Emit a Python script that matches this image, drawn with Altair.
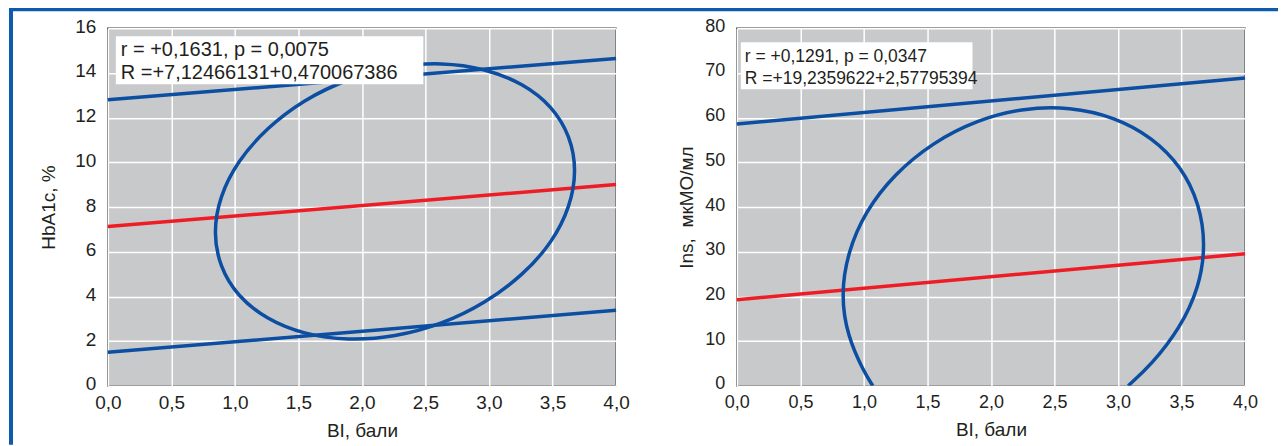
import altair as alt
import pandas as pd

# ---------------- data ----------------
X_TICKS = [0.0, 0.5, 1.0, 1.5, 2.0, 2.5, 3.0, 3.5, 4.0]
HBA_TICKS = [0, 2, 4, 6, 8, 10, 12, 14, 16]
INS_TICKS = [0, 10, 20, 30, 40, 50, 60, 70, 80]

BI_ENDS = [0.0, 4.0]
HBA_REGRESSION = [7.1247, 9.0049]
HBA_UPPER = [12.8, 14.65]
HBA_LOWER = [1.5, 3.38]
INS_REGRESSION = [19.236, 29.548]
INS_UPPER = [58.6, 68.9]

HBA_ELLIPSE_X = [3.69, 3.64, 3.50, 3.27, 2.97, 2.63, 2.26, 1.89, 1.54, 1.25, 1.02, 0.88,
                 0.83, 0.88, 1.02, 1.25, 1.54, 1.89, 2.26, 2.63, 2.97, 3.27, 3.50, 3.64]
HBA_ELLIPSE_Y = [9.64, 11.17, 12.50, 13.53, 14.20, 14.48, 14.32, 13.75, 12.80, 11.54, 10.05, 8.47,
                 6.86, 5.33, 4.00, 2.97, 2.30, 2.02, 2.18, 2.75, 3.70, 4.96, 6.43, 8.03]

INS_ELLIPSE_X = [3.08, 3.26, 3.49, 3.64, 3.69, 3.64, 3.50, 3.27, 2.97, 2.62,
                 2.26, 1.89, 1.54, 1.24, 1.01, 0.87, 0.82, 0.87, 1.00, 1.07]
INS_ELLIPSE_Y = [0.0, 4.6, 12.9, 22.1, 31.6, 40.8, 49.0, 55.6, 60.2, 62.4,
                 62.2, 59.5, 54.4, 47.4, 39.0, 29.7, 20.2, 11.1, 3.1, 0.0]

HBA_TEXT = ["r = +0,1631, p = 0,0075", "R =+7,12466131+0,470067386"]
INS_TEXT = ["r = +0,1291, p = 0,0347", "R =+19,2359622+2,57795394"]

X_TITLE = "BI, бали"
HBA_TITLE = "HbA1c, %"
INS_TITLE = "Ins,\u00a0 мкМО/мл"

# ---------------- styles ----------------
BLUE = "#0b4ea2"
RED = "#ee1d25"
FRAME = "#0e5bab"
INK = "#231f20"
GRAY = "#c8c9cb"
FONT = "Liberation Sans, Arial, sans-serif"
W, H = 509, 358


def x_enc(label_size):
    return alt.X(
        "x:Q",
        scale=alt.Scale(domain=[0, 4], nice=False, zero=False),
        axis=alt.Axis(
            values=X_TICKS,
            labelExpr="replace(format(datum.value, '.1f'), '.', ',')",
            title=X_TITLE, grid=True, gridColor="white", gridWidth=1.5, gridOpacity=1,
            domain=False, ticks=False, labelFlush=False, labelOverlap=False,
            labelFont=FONT, labelFontSize=label_size, labelColor=INK, labelPadding=8,
            titleFont=FONT, titleFontSize=19, titleFontWeight="normal",
            titleColor=INK, titlePadding=9,
        ),
    )


def y_enc(ticks, title, label_size, title_pad):
    return alt.Y(
        "y:Q",
        scale=alt.Scale(domain=[ticks[0], ticks[-1]], nice=False),
        axis=alt.Axis(
            values=ticks, format="d", title=title, grid=True, gridColor="white",
            gridWidth=1.5, gridOpacity=1, domain=False, ticks=False, labelOverlap=False,
            labelFont=FONT, labelFontSize=label_size, labelColor=INK, labelPadding=12,
            labelOffset=-2,
            titleFont=FONT, titleFontSize=19, titleFontWeight="normal",
            titleColor=INK, titlePadding=title_pad,
        ),
    )


def line_layer(xs, ys, color, xe, ye):
    df = pd.DataFrame({"x": xs, "y": ys})
    return alt.Chart(df).mark_line(color=color, strokeWidth=3.5).encode(x=xe, y=ye)


def ellipse_layer(xs, ys, closed, xe, ye):
    df = pd.DataFrame({"x": xs, "y": ys, "i": list(range(len(xs)))})
    interp = "basis-closed" if closed else "basis"
    return alt.Chart(df).mark_line(color=BLUE, strokeWidth=3.5, interpolate=interp,
                                   clip=True).encode(x=xe, y=ye, order=alt.Order("i:Q"))


def one():
    return alt.Data(values=[{"k": 0}])


def box_layers(text, size, box, tx, ty1, ty2):
    rect = alt.Chart(one()).mark_rect(color="white").encode(
        x=alt.value(box[0]), x2=alt.value(box[1]), y=alt.value(box[2]), y2=alt.value(box[3]))
    t1 = alt.Chart(one()).mark_text(text=text[0], align="left", baseline="alphabetic",
                                    font=FONT, fontSize=size, color=INK).encode(
        x=alt.value(tx), y=alt.value(ty1))
    t2 = alt.Chart(one()).mark_text(text=text[1], align="left", baseline="alphabetic",
                                    font=FONT, fontSize=size, color=INK).encode(
        x=alt.value(tx), y=alt.value(ty2))
    return [rect, t1, t2]


# ---------------- left panel ----------------
xl = x_enc(19)
yl = y_enc(HBA_TICKS, HBA_TITLE, 19, 16)
frame_v = alt.Chart(one()).mark_rect(color=FRAME).encode(
    x=alt.value(-99), x2=alt.value(-95), y=alt.value(-21), y2=alt.value(417))
frame_h = alt.Chart(one()).mark_rect(color=FRAME).encode(
    x=alt.value(-99), x2=alt.value(1172), y=alt.value(-21), y2=alt.value(-17))

left = alt.layer(
    line_layer(BI_ENDS, HBA_UPPER, BLUE, xl, yl),
    line_layer(BI_ENDS, HBA_LOWER, BLUE, xl, yl),
    line_layer(BI_ENDS, HBA_REGRESSION, RED, xl, yl),
    ellipse_layer(HBA_ELLIPSE_X, HBA_ELLIPSE_Y, True, xl, yl),
    *box_layers(HBA_TEXT, 20, [8, 316, 8, 56], 13, 28, 51),
    frame_v, frame_h,
).properties(width=W, height=H)

# ---------------- right panel ----------------
xr = x_enc(18)
yr = y_enc(INS_TICKS, INS_TITLE, 18, 8)
right = alt.layer(
    line_layer(BI_ENDS, INS_UPPER, BLUE, xr, yr),
    line_layer(BI_ENDS, INS_REGRESSION, RED, xr, yr),
    ellipse_layer(INS_ELLIPSE_X, INS_ELLIPSE_Y, False, xr, yr),
    *box_layers(INS_TEXT, 17.5, [4, 236, 14, 61], 8, 34, 56),
).properties(width=W, height=H)

chart = alt.hconcat(left, right, spacing=121, bounds="flush").properties(
    padding={"top": -2, "left": 0, "right": 0, "bottom": 0}, background="white"
).configure_view(fill=GRAY, stroke="#3c3c3c", strokeWidth=1.5)

chart.save("out.html", embed_options={"renderer": "svg", "actions": False})
